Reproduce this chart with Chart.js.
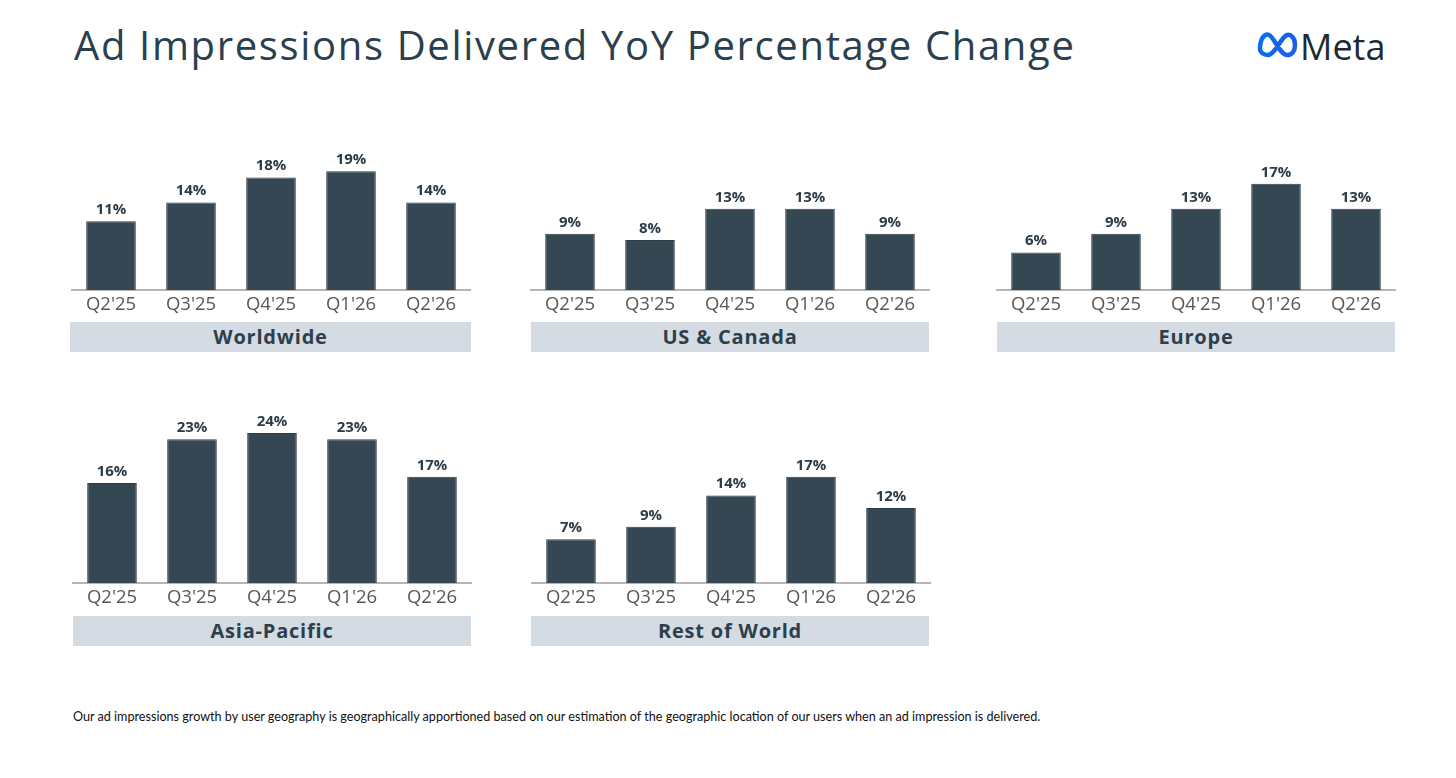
<!DOCTYPE html>
<html>
<head>
<meta charset="utf-8">
<script src="https://cdn.jsdelivr.net/npm/chart.js@4"></script>
<style>
  html, body { margin: 0; padding: 0; background: #fff; }
  body { width: 1456px; height: 778px; position: relative; overflow: hidden; font-family: "Open Sans", Lato, sans-serif; }
  .title { position: absolute; left: 74px; top: 17px; font-size: 40px; color: #2b3f4e; font-weight: 400; letter-spacing: 1.65px; white-space: nowrap; }
  .logo { position: absolute; left: 1256px; top: 28px; height: 36px; }
  .logo span { position: absolute; left: 44px; top: -6px; font-size: 36px; color: #1c2b33; font-weight: 500; white-space: nowrap; }
  .panel { position: absolute; }
  .band { position: absolute; background: #d4dbe3; color: #2e3f4b; font-weight: 700; font-size: 20px; letter-spacing: 0.8px; text-align: center; line-height: 30px; height: 30px; }
  .note { position: absolute; left: 73px; top: 709px; font-size: 12.6px; color: #111; white-space: nowrap; font-family: Lato, sans-serif; }
</style>
</head>
<body>
<div class="title">Ad Impressions Delivered YoY Percentage Change</div>
<div class="logo">
  <svg width="44" height="32" viewBox="0 0 44 32">
    <defs>
      <linearGradient id="mg" x1="0" y1="0" x2="1" y2="0">
        <stop offset="0" stop-color="#0a6cf0"/>
        <stop offset="1" stop-color="#1d5ee8"/>
      </linearGradient>
    </defs>
    <path d="M4 21 C4 10 9 5 13 7 C18 9 24 27 31 27 C36 27 39 23 39 17 C39 10 35 6 31 7 C25 9 19 27 12 27 C7 27 4 24 4 21 Z"
          fill="none" stroke="url(#mg)" stroke-width="4.5" stroke-linejoin="round"/>
  </svg>
  <span>Meta</span>
</div>
<div class="note">Our ad impressions growth by user geography is geographically apportioned based on our estimation of the geographic location of our users when an ad impression is delivered.</div>

<script>
// quarters shown under every panel
const quarters = ["Q2'25", "Q3'25", "Q4'25", "Q1'26", "Q2'26"];

// YoY % change per region
const worldwide = [11, 14, 18, 19, 14];
const usCanada = [9, 8, 13, 13, 9];
const europe = [6, 9, 13, 17, 13];
const asiaPacific = [16, 23, 24, 23, 17];
const restOfWorld = [7, 9, 14, 17, 12];

const regionNames = ['Worldwide', 'US & Canada', 'Europe', 'Asia-Pacific', 'Rest of World'];
const regionValues = [worldwide, usCanada, europe, asiaPacific, restOfWorld];

// panel placement: left, baseline y, width
const panels = [
    { left: 71, base: 290, width: 400, bandLeft: 70, bandW: 401, bandTop: 322 },
    { left: 530, base: 290, width: 400, bandLeft: 531, bandW: 398, bandTop: 322 },
    { left: 996, base: 290, width: 400, bandLeft: 997, bandW: 398, bandTop: 322 },
    { left: 72, base: 583, width: 400, bandLeft: 73, bandW: 398, bandTop: 616 },
    { left: 531, base: 583, width: 400, bandLeft: 531, bandW: 398, bandTop: 616 },
];

const PLOT_H = 170;
const AXIS_H = 32;
const PX_PER_PCT = 6.25;

const barLabels = {
    id: 'barLabels',
    afterDatasetsDraw(chart) {
        const ctx = chart.ctx;
        const meta = chart.getDatasetMeta(0);
        ctx.save();
        ctx.font = 'bold 15px "Open Sans", Lato, sans-serif';
        ctx.fillStyle = '#2b3b47';
        ctx.textAlign = 'center';
        ctx.textBaseline = 'bottom';
        meta.data.forEach((bar, i) => {
            ctx.fillText(chart.data.datasets[0].data[i] + '%', bar.x, bar.y - 4);
        });
        ctx.restore();
    }
};

panels.forEach((p, idx) => {
    const wrap = document.createElement('div');
    wrap.className = 'panel';
    wrap.style.left = p.left + 'px';
    wrap.style.top = (p.base - PLOT_H) + 'px';
    wrap.style.width = p.width + 'px';
    wrap.style.height = (PLOT_H + AXIS_H) + 'px';
    const canvas = document.createElement('canvas');
    wrap.appendChild(canvas);
    document.body.appendChild(wrap);

    const band = document.createElement('div');
    band.className = 'band';
    band.style.left = p.bandLeft + 'px';
    band.style.width = p.bandW + 'px';
    band.style.top = p.bandTop + 'px';
    band.textContent = regionNames[idx];
    document.body.appendChild(band);

    new Chart(canvas, {
        type: 'bar',
        data: {
            labels: quarters,
            datasets: [{
                data: regionValues[idx],
                backgroundColor: '#354752',
                borderColor: '#2c3c46',
                borderWidth: 1,
                barPercentage: 0.62,
                categoryPercentage: 1
            }]
        },
        options: {
            responsive: true,
            maintainAspectRatio: false,
            animation: false,
            layout: { padding: 0 },
            plugins: { legend: { display: false }, tooltip: { enabled: false } },
            scales: {
                x: {
                    grid: { display: false, drawTicks: false },
                    border: { display: true, color: '#b5b5b5', width: 2 },
                    ticks: { color: '#585858', font: { size: 18.5, family: '"Open Sans", Lato, sans-serif' }, padding: 4 },
                    afterFit: s => { s.height = AXIS_H; }
                },
                y: {
                    display: false,
                    min: 0,
                    max: PLOT_H / PX_PER_PCT
                }
            }
        },
        plugins: [barLabels]
    });
});
</script>
</body>
</html>
